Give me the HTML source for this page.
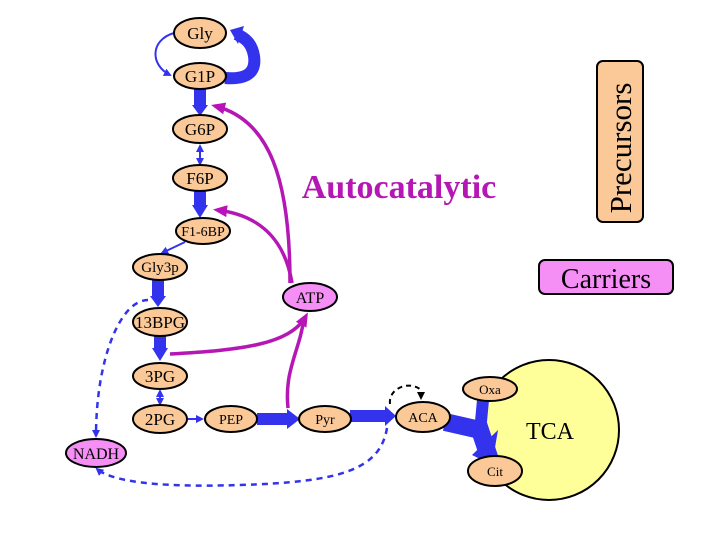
<!DOCTYPE html>
<html><head><meta charset="utf-8"><style>
html,body{margin:0;padding:0;background:#fff}
svg{display:block}
text{font-family:"Liberation Serif",serif}
</style></head><body>
<svg width="720" height="540" viewBox="0 0 720 540" xmlns="http://www.w3.org/2000/svg">
<defs>
<marker id="ab" markerWidth="8" markerHeight="8" refX="6" refY="4" orient="auto-start-reverse" markerUnits="userSpaceOnUse"><path d="M0,0 L8,4 L0,8 z" fill="#3333ee"/></marker>
<marker id="ap" markerWidth="14" markerHeight="12" refX="10" refY="6" orient="auto" markerUnits="userSpaceOnUse"><path d="M0,0 L14,6 L0,12 z" fill="#bb11bb"/></marker>
<marker id="ak" markerWidth="8" markerHeight="8" refX="6" refY="4" orient="auto" markerUnits="userSpaceOnUse"><path d="M0,0 L8,4 L0,8 z" fill="#000"/></marker>
</defs>
<rect x="597" y="61" width="46" height="161" rx="6" fill="#fbc898" stroke="#000" stroke-width="2"/>
<text x="0" y="0" transform="translate(631,148) rotate(-90)" font-size="31" text-anchor="middle">Precursors</text>
<rect x="539" y="260" width="134" height="34" rx="6" fill="#f58ef5" stroke="#000" stroke-width="2"/>
<text x="606" y="288" font-size="28" text-anchor="middle">Carriers</text>
<text x="399" y="198" font-size="34" font-weight="bold" fill="#b517b5" text-anchor="middle">Autocatalytic</text>
<circle cx="549" cy="430" r="70" fill="#ffff99" stroke="#000" stroke-width="2"/>
<text x="550" y="439" font-size="24" text-anchor="middle">TCA</text>
<path d="M200,89 L200,108" stroke="#3333ee" stroke-width="12"/>
<path d="M192,105 L208,105 L200,116 z" fill="#3333ee"/>
<path d="M200,191 L200,208" stroke="#3333ee" stroke-width="12"/>
<path d="M192,205 L208,205 L200,218 z" fill="#3333ee"/>
<path d="M158,280 L158,298" stroke="#3333ee" stroke-width="12"/>
<path d="M150,296 L166,296 L158,307 z" fill="#3333ee"/>
<path d="M160,335 L160,350" stroke="#3333ee" stroke-width="12"/>
<path d="M152,348 L168,348 L160,361 z" fill="#3333ee"/>
<path d="M257,419 L288,419" stroke="#3333ee" stroke-width="12"/>
<path d="M287,409 L300,419 L287,429 z" fill="#3333ee"/>
<path d="M350,416 L386,416" stroke="#3333ee" stroke-width="12"/>
<path d="M385,406 L396,416 L385,426 z" fill="#3333ee"/>
<path d="M225,78 C250,80 256,70 254,56 C252,44 246,38 236,34" stroke="#3333ee" stroke-width="12" fill="none"/>
<path d="M230,30 L244,26 L238,44 z" fill="#3333ee"/>
<path d="M174,33 C150,40 150,65 170,75" stroke="#3333ee" stroke-width="2" fill="none" marker-end="url(#ab)"/>
<path d="M200,146 L200,164" stroke="#3333ee" stroke-width="2" marker-end="url(#ab)" marker-start="url(#ab)"/>
<path d="M160,391 L160,404" stroke="#3333ee" stroke-width="2" marker-end="url(#ab)" marker-start="url(#ab)"/>
<path d="M188,419 L202,419" stroke="#3333ee" stroke-width="2" marker-end="url(#ab)"/>
<path d="M185,242 L162,253" stroke="#3333ee" stroke-width="2" marker-end="url(#ab)"/>
<path d="M445,422 L480,430 L490,460" stroke="#3333ee" stroke-width="18" fill="none"/>
<path d="M483,400 L480,432" stroke="#3333ee" stroke-width="12" fill="none"/>
<path d="M472,455 L498,430 L492,465 z" fill="#3333ee"/>
<path d="M148,300 C120,300 96,360 96,436" stroke="#3333ee" stroke-width="2.5" stroke-dasharray="6,5" fill="none" marker-end="url(#ab)"/>
<path d="M387,428 C380,470 340,482 240,485 C150,488 110,480 97,469" stroke="#3333ee" stroke-width="2.5" stroke-dasharray="6,5" fill="none" marker-end="url(#ab)"/>
<path d="M390,404 C388,388 410,380 421,390 L421,398" stroke="#000" stroke-width="2" stroke-dasharray="5,4" fill="none" marker-end="url(#ak)"/>
<path d="M290,283 C290,180 270,120 215,106" stroke="#b517b5" stroke-width="3.5" fill="none" marker-end="url(#ap)"/>
<path d="M292,283 C285,240 260,215 217,210" stroke="#b517b5" stroke-width="3.5" fill="none" marker-end="url(#ap)"/>
<path d="M170,354 C240,350 290,345 306,316" stroke="#b517b5" stroke-width="3.5" fill="none" marker-end="url(#ap)"/>
<path d="M288,408 C284,370 300,350 304,318" stroke="#b517b5" stroke-width="3.5" fill="none"/>
<g stroke="#000" stroke-width="2" fill="#fbc898">
<ellipse cx="200" cy="33" rx="26" ry="15"/>
<ellipse cx="200" cy="76" rx="26" ry="13"/>
<ellipse cx="200" cy="129" rx="27" ry="14"/>
<ellipse cx="200" cy="178" rx="27" ry="13"/>
<ellipse cx="203" cy="231" rx="27" ry="13"/>
<ellipse cx="160" cy="267" rx="27" ry="13"/>
<ellipse cx="160" cy="322" rx="27" ry="14"/>
<ellipse cx="160" cy="376" rx="27" ry="13"/>
<ellipse cx="160" cy="419" rx="27" ry="14"/>
<ellipse cx="231" cy="419" rx="26" ry="13"/>
<ellipse cx="325" cy="419" rx="26" ry="13"/>
<ellipse cx="423" cy="417" rx="27" ry="15"/>
<ellipse cx="490" cy="389" rx="27" ry="12"/>
<ellipse cx="495" cy="471" rx="27" ry="15"/>
<ellipse cx="310" cy="297" rx="27" ry="14" fill="#f58ef5"/>
<ellipse cx="96" cy="453" rx="30" ry="14" fill="#f58ef5"/>
</g>
<g font-size="17" text-anchor="middle">
<text x="200" y="39">Gly</text>
<text x="200" y="82">G1P</text>
<text x="200" y="135">G6P</text>
<text x="200" y="184">F6P</text>
<text x="203" y="236" font-size="14">F1-6BP</text>
<text x="160" y="272" font-size="15">Gly3p</text>
<text x="160" y="328">13BPG</text>
<text x="160" y="382">3PG</text>
<text x="160" y="425">2PG</text>
<text x="231" y="424" font-size="14">PEP</text>
<text x="325" y="424" font-size="14">Pyr</text>
<text x="423" y="422" font-size="14">ACA</text>
<text x="490" y="394" font-size="13">Oxa</text>
<text x="495" y="476" font-size="13">Cit</text>
<text x="310" y="303" font-size="16">ATP</text>
<text x="96" y="459" font-size="16">NADH</text>
</g>
</svg>
</body></html>
